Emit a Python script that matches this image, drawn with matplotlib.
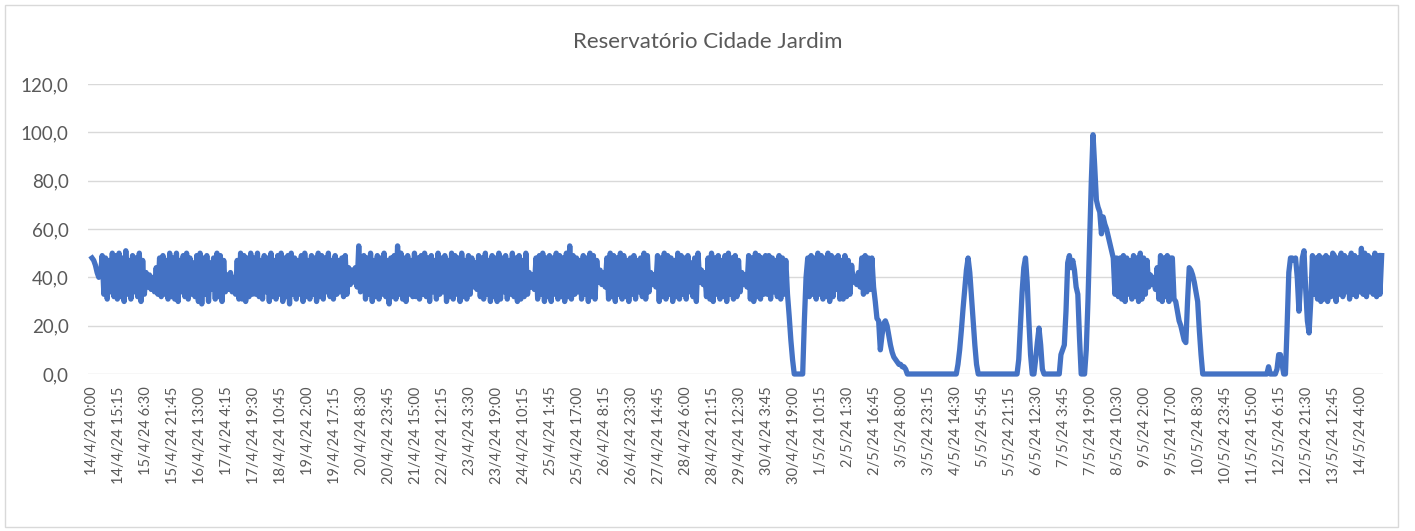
import numpy as np
import matplotlib.pyplot as plt
from matplotlib.patches import Rectangle
from matplotlib.ticker import FuncFormatter

plt.rcParams['font.family'] = ['Lato', 'DejaVu Sans']

titulo = 'Reservatório Cidade Jardim'

# rótulos do eixo x (um a cada 61 leituras de 15 min)
rotulos_x = [
    '14/4/24 0:00', '14/4/24 15:15', '15/4/24 6:30', '15/4/24 21:45',
    '16/4/24 13:00', '17/4/24 4:15', '17/4/24 19:30', '18/4/24 10:45',
    '19/4/24 2:00', '19/4/24 17:15', '20/4/24 8:30', '20/4/24 23:45',
    '21/4/24 15:00', '22/4/24 12:15', '23/4/24 3:30', '23/4/24 19:00',
    '24/4/24 10:15', '25/4/24 1:45', '25/4/24 17:00', '26/4/24 8:15',
    '26/4/24 23:30', '27/4/24 14:45', '28/4/24 6:00', '28/4/24 21:15',
    '29/4/24 12:30', '30/4/24 3:45', '30/4/24 19:00', '1/5/24 10:15',
    '2/5/24 1:30', '2/5/24 16:45', '3/5/24 8:00', '3/5/24 23:15',
    '4/5/24 14:30', '5/5/24 5:45', '5/5/24 21:15', '6/5/24 12:30',
    '7/5/24 3:45', '7/5/24 19:00', '8/5/24 10:30', '9/5/24 2:00',
    '9/5/24 17:00', '10/5/24 8:30', '10/5/24 23:45', '11/5/24 15:00',
    '12/5/24 6:15', '12/5/24 21:30', '13/5/24 12:45', '14/5/24 4:00',
]
leituras_por_rotulo = 61
pontos_por_rotulo = 16

# nível, 16 pontos entre rótulos consecutivos (uma linha por rótulo)
nivel_abr_1 = [
    48, 47, 45, 42, 40, 41, 49, 33, 48, 31, 47, 34, 50, 32, 49, 31,
    50, 32, 48, 30, 51, 33, 47, 31, 49, 34, 48, 32, 50, 30, 47, 33,
    42, 36, 41, 35, 40, 34, 44, 33, 48, 32, 49, 33, 47, 31, 50, 32,
    48, 31, 50, 30, 47, 34, 49, 32, 50, 31, 48, 33, 46, 32, 49, 30,
    50, 29, 48, 33, 49, 30, 46, 35, 48, 31, 50, 32, 49, 30, 47, 34,
    41, 35, 42, 34, 40, 33, 47, 31, 50, 31, 49, 30, 48, 32, 50, 33,
    48, 33, 50, 32, 47, 31, 49, 34, 48, 30, 50, 32, 47, 31, 49, 33,
    50, 30, 48, 32, 49, 29, 50, 33, 48, 31, 47, 33, 49, 30, 50, 32,
    47, 31, 49, 33, 48, 30, 50, 32, 49, 31, 48, 34, 50, 32, 47, 31,
]
nivel_abr_2 = [
    49, 33, 47, 34, 48, 32, 49, 33, 44, 37, 43, 38, 44, 36, 53, 34,
    35, 49, 31, 48, 33, 50, 30, 47, 32, 49, 31, 48, 33, 50, 32, 47,
    29, 48, 32, 49, 31, 53, 33, 50, 31, 48, 30, 49, 33, 47, 32, 50,
    32, 48, 31, 49, 33, 50, 32, 48, 30, 49, 34, 47, 31, 50, 33, 48,
    34, 49, 30, 47, 32, 50, 31, 49, 33, 48, 30, 50, 32, 47, 31, 49,
    33, 48, 36, 46, 35, 49, 32, 48, 31, 50, 33, 47, 30, 49, 32, 48,
    30, 50, 31, 48, 34, 49, 31, 47, 33, 50, 32, 48, 30, 49, 31, 47,
    32, 50, 33, 42, 36, 41, 35, 48, 31, 49, 33, 50, 30, 48, 32, 49,
    30, 48, 33, 50, 31, 49, 32, 48, 30, 50, 32, 53, 31, 49, 33, 48,
]
nivel_abr_3 = [
    34, 47, 31, 49, 33, 48, 30, 50, 32, 49, 31, 47, 38, 43, 37, 42,
    36, 48, 31, 50, 32, 49, 30, 48, 33, 50, 31, 49, 32, 47, 30, 48,
    33, 49, 31, 47, 34, 48, 32, 50, 31, 49, 34, 42, 37, 41, 36, 49,
    30, 48, 32, 50, 31, 49, 33, 48, 30, 47, 32, 50, 31, 49, 33, 48,
    31, 49, 34, 46, 32, 48, 30, 50, 38, 43, 37, 42, 32, 48, 31, 50,
    30, 48, 33, 49, 31, 47, 32, 49, 30, 50, 33, 48, 31, 49, 32, 47,
    34, 42, 37, 41, 36, 49, 31, 48, 30, 50, 32, 49, 31, 48, 33, 49,
    33, 49, 31, 48, 34, 47, 32, 49, 31, 48, 33, 47, 33, 24, 14, 6,
]
nivel_mai_1 = [
    0, 0, 0, 0, 0, 0, 22, 40, 48, 32, 49, 33, 48, 31, 50, 33,
    49, 31, 48, 32, 50, 30, 49, 32, 48, 35, 49, 31, 47, 31, 49, 32,
    47, 33, 45, 38, 40, 37, 42, 36, 48, 33, 49, 34, 48, 35, 48, 36,
    30, 23, 22, 10, 16, 21, 22, 20, 16, 12, 9, 7, 6, 5, 4, 4,
    3, 3, 2, 0, 0, 0, 0, 0, 0, 0, 0, 0, 0, 0, 0, 0,
    0, 0, 0, 0, 0, 0, 0, 0, 0, 0, 0, 0, 0, 0, 0, 0,
    0, 4, 10, 18, 27, 35, 43, 48, 42, 32, 22, 12, 4, 0, 0, 0,
    0, 0, 0, 0, 0, 0, 0, 0, 0, 0, 0, 0, 0, 0, 0, 0,
]
nivel_mai_2 = [
    0, 0, 0, 0, 0, 6, 20, 34, 44, 48, 38, 22, 8, 0, 0, 6,
    13, 19, 12, 2, 0, 0, 0, 0, 0, 0, 0, 0, 0, 0, 8, 10,
    12, 26, 46, 49, 44, 47, 43, 36, 33, 15, 0, 0, 0, 10, 30, 55,
    80, 99, 86, 72, 69, 67, 58, 65, 62, 60, 57, 54, 51, 48, 33, 48,
    32, 48, 31, 49, 30, 48, 33, 47, 31, 49, 32, 48, 30, 50, 31, 48,
    33, 47, 36, 41, 37, 40, 35, 44, 31, 49, 30, 48, 32, 49, 30, 48,
    48, 31, 30, 26, 22, 20, 17, 14, 13, 30, 44, 43, 41, 38, 34, 30,
    18, 8, 0, 0, 0, 0, 0, 0, 0, 0, 0, 0, 0, 0, 0, 0,
]
nivel_mai_3 = [
    0, 0, 0, 0, 0, 0, 0, 0, 0, 0, 0, 0, 0, 0, 0, 0,
    0, 0, 0, 0, 0, 0, 0, 0, 0, 3, 0, 0, 0, 0, 2, 8,
    8, 4, 0, 0, 20, 42, 48, 48, 47, 48, 40, 26, 38, 48, 51, 35,
    22, 17, 30, 49, 33, 48, 31, 49, 30, 48, 31, 49, 30, 48, 32, 50,
    49, 30, 48, 33, 50, 32, 49, 34, 48, 31, 50, 33, 49, 32, 48, 34,
    52, 33, 50, 32, 49, 34, 48, 33, 50, 32, 49, 33, 49,
]

nivel = np.array(nivel_abr_1 + nivel_abr_2 + nivel_abr_3
                 + nivel_mai_1 + nivel_mai_2 + nivel_mai_3, dtype=float)
x = np.arange(len(nivel)) * leituras_por_rotulo / pontos_por_rotulo

W, H = 1415, 531
cinza = '#595959'
fig = plt.figure(figsize=(W / 100, H / 100), dpi=100)
ax = fig.add_axes([88 / W, 1 - 374 / H, (1383 - 88) / W, (374 - 84) / H])

ax.plot(x, nivel, color='#4472C4', lw=3.8, solid_joinstyle='round', clip_on=False)

ax.set_ylim(0, 120)
ax.set_xlim(-0.15 * leituras_por_rotulo, 47.8 * leituras_por_rotulo)
ax.set_yticks(np.arange(0, 121, 20))
ax.yaxis.set_major_formatter(FuncFormatter(lambda v, p: f'{v:.1f}'.replace('.', ',')))
ax.set_xticks(np.arange(len(rotulos_x)) * leituras_por_rotulo)
ax.set_xticklabels(rotulos_x, rotation=90, va='top', ha='center')

ax.grid(axis='y', color='#d9d9d9', lw=1)
ax.set_axisbelow(True)
for s in ax.spines.values():
    s.set_visible(False)
ax.tick_params(length=0, labelcolor=cinza)
ax.tick_params(axis='y', pad=14, labelsize=13.5)
ax.tick_params(axis='x', pad=9, labelsize=10.5)

fig.text(708 / W, 1 - 42 / H, titulo, ha='center', va='center', fontsize=16, color=cinza)
fig.patches.append(Rectangle((5 / W, 1 - 527 / H), (1398 - 5) / W, (527 - 5) / H,
                             transform=fig.transFigure, fill=False, ec='#d9d9d9', lw=1))

fig.savefig('out.png', dpi=100)
